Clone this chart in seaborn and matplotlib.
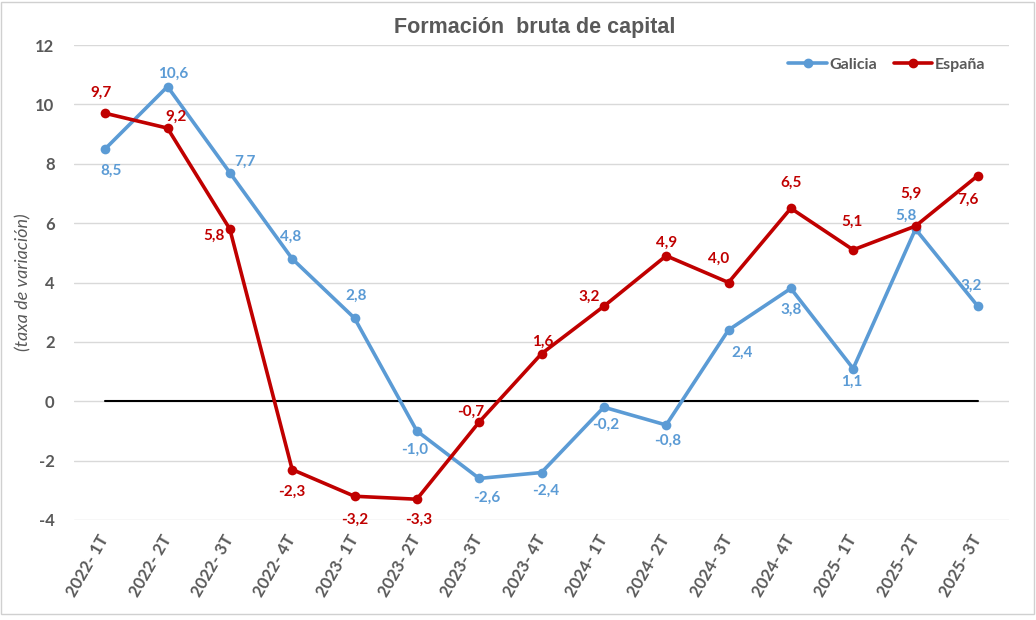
import pandas as pd
import matplotlib.pyplot as plt
import seaborn as sns
from matplotlib.lines import Line2D
from matplotlib.patches import Rectangle

# Datos
trimestres = ["2022- 1T", "2022- 2T", "2022- 3T", "2022- 4T", "2023- 1T", "2023- 2T",
              "2023- 3T", "2023- 4T", "2024- 1T", "2024- 2T", "2024- 3T", "2024- 4T",
              "2025- 1T", "2025- 2T", "2025- 3T"]
galicia = [8.5, 10.6, 7.7, 4.8, 2.8, -1.0, -2.6, -2.4, -0.2, -0.8, 2.4, 3.8, 1.1, 5.8, 3.2]
espana = [9.7, 9.2, 5.8, -2.3, -3.2, -3.3, -0.7, 1.6, 3.2, 4.9, 4.0, 6.5, 5.1, 5.9, 7.6]

# Posición de las etiquetas (desplazamiento en píxeles respecto al punto)
off_galicia = [(6, 22), (6, -13), (15, -11), (-2, -22), (2, -22), (-2, 19), (8, 19), (4, 18),
               (2, 18), (2, 16), (14, 23), (0, 21), (-1, 13), (-9, -13), (-7, -20)]
off_espana = [(-4, -20), (9, -11), (-16, 7), (0, 22), (0, 24), (2, 21), (-8, -10), (1, -12),
              (-15, -9), (0, -13), (-10, -24), (0, -25), (-1, -28), (-5, -32), (-10, 24)]

AZUL = "#5B9BD5"
ROJO = "#C00000"
GRIS = "#595959"

sns.set_theme(style="white")
plt.rcParams["font.family"] = ["Lato", "DejaVu Sans"]
plt.rcParams["axes.unicode_minus"] = False

df = pd.DataFrame({
    "x": list(range(len(trimestres))) * 2,
    "valor": galicia + espana,
    "serie": ["Galicia"] * len(galicia) + ["España"] * len(espana),
})

fig = plt.figure(figsize=(10.36, 6.2), dpi=100)
ax = fig.add_axes([74 / 1036, 1 - 520 / 620, 935 / 1036, 475 / 620])

for y in range(-4, 13, 2):
    ax.axhline(y, color="#D9D9D9", lw=1, zorder=0)
ax.plot([0, len(trimestres) - 1], [0, 0], color="black", lw=1.5, zorder=1)

sns.lineplot(data=df, x="x", y="valor", hue="serie", palette={"Galicia": AZUL, "España": ROJO},
             marker="o", markersize=7, markeredgewidth=0, linewidth=2.6, sort=False,
             legend=False, ax=ax, zorder=3)

for serie, vals, offs, col in [("Galicia", galicia, off_galicia, AZUL),
                               ("España", espana, off_espana, ROJO)]:
    for i, (v, (dx, dy)) in enumerate(zip(vals, offs)):
        ax.annotate(f"{v:.1f}".replace(".", ","), (i, v),
                    xytext=(dx * 0.72, -dy * 0.72), textcoords="offset points",
                    ha="center", va="center", color=col, fontsize=11,
                    fontweight="bold", zorder=4)

ax.set_xlim(-0.5, len(trimestres) - 0.5)
ax.set_ylim(-4, 12)
ax.set_yticks(range(-4, 13, 2))
ax.set_xticks(range(len(trimestres)))
ax.set_xticklabels(trimestres, rotation=60, ha="right", va="center", rotation_mode="anchor")
ax.tick_params(axis="both", length=0, labelsize=12, labelcolor=GRIS)
ax.tick_params(axis="x", pad=12)
ax.tick_params(axis="y", pad=14)
for lbl in ax.get_xticklabels() + ax.get_yticklabels():
    lbl.set_fontweight("bold")
ax.set_xlabel("")
ax.set_ylabel("(taxa de variación)", fontstyle="italic", fontsize=13, color=GRIS, labelpad=3)
for s in ax.spines.values():
    s.set_visible(False)

fig.text(535 / 1036, 1 - 27 / 620, "Formación  bruta de capital", ha="center", va="center",
         fontsize=15.5, fontweight="bold", color=GRIS, family="Liberation Sans")

handles = [Line2D([], [], color=AZUL, lw=2.6, marker="o", markersize=6),
           Line2D([], [], color=ROJO, lw=2.6, marker="o", markersize=6)]
fig.legend(handles, ["Galicia", "España"], loc="center right", ncol=2, frameon=False,
           bbox_to_anchor=(1000 / 1036, 1 - 65 / 620), handlelength=2.4,
           handletextpad=0.2, columnspacing=1.0, labelcolor=GRIS,
           prop={"weight": "bold", "size": 11.5})

fig.patches.append(Rectangle((1 / 1036, 1 - 614 / 620), 1033 / 1036, 612 / 620,
                             transform=fig.transFigure, fill=False, edgecolor="#D0D0D0", lw=1))

fig.savefig("out.png", dpi=100)
